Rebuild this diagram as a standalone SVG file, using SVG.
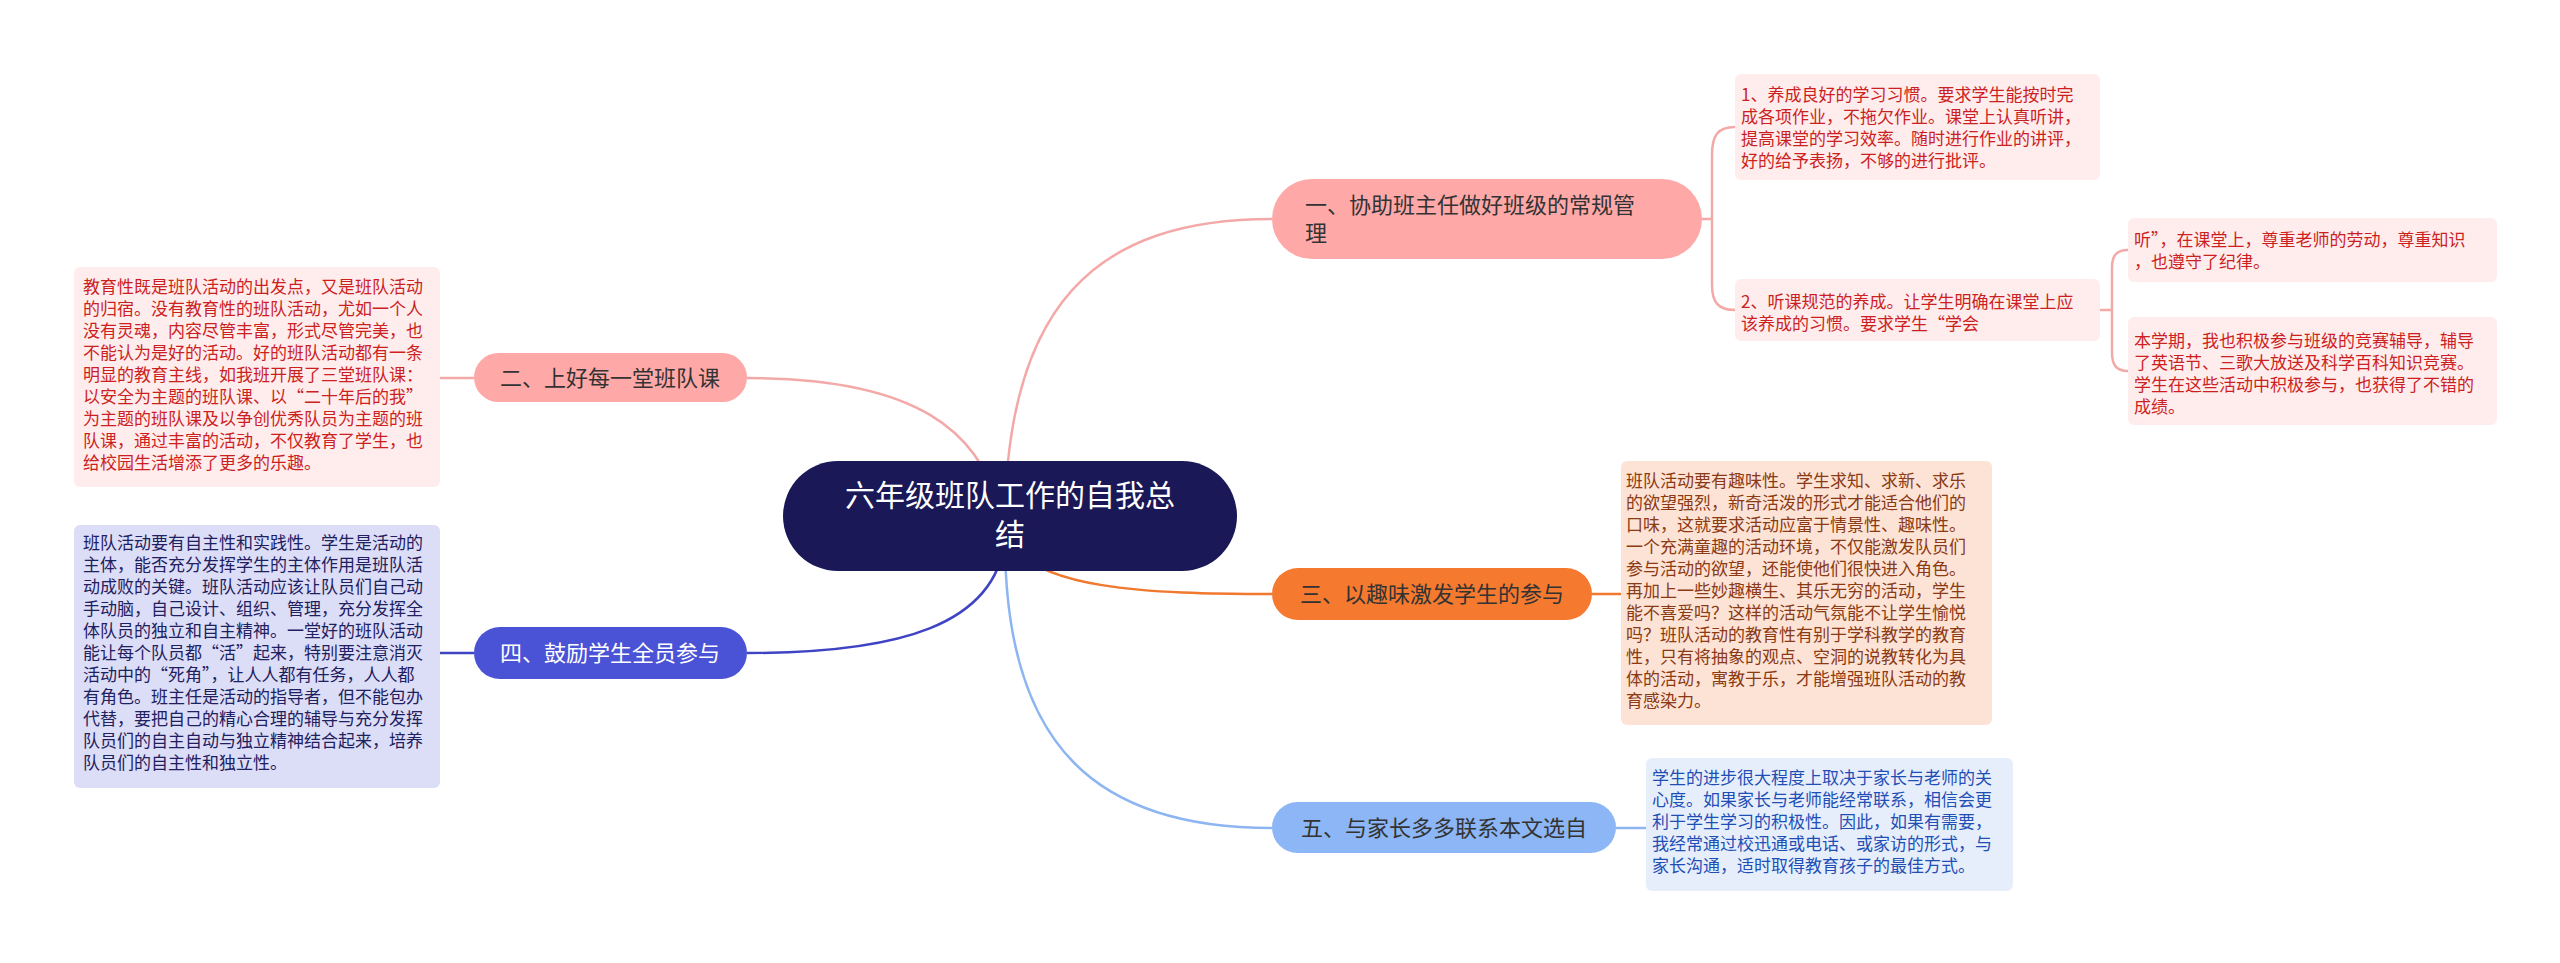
<svg xmlns="http://www.w3.org/2000/svg" width="2560" height="963" viewBox="0 0 2560 963">
<style>
text{font-family:"Noto Sans CJK SC","Liberation Sans",sans-serif}
.d{font-size:17px}
.m{font-size:22px}
.c{fill:none;stroke-width:2.5}
</style>
<rect width="2560" height="963" fill="#fff"/>
<g id="connectors">
<path class="c" stroke="#F4A9A9" d="M1005 545 C1000 300 1100 219 1272 219"/>
<path class="c" stroke="#F4A9A9" d="M1005 545 C995 420 900 378 747 378"/>
<path class="c" stroke="#F0782F" d="M1005 535 C1030 590 1150 594 1272 594"/>
<path class="c" stroke="#3F44C4" d="M1005 540 C995 625 900 653 747 653"/>
<path class="c" stroke="#8DB5F2" d="M1005 540 C1005 750 1100 828 1272 828"/>
<path class="c" stroke="#F4A9A9" d="M474 378 H440"/>
<path class="c" stroke="#3F44C4" d="M474 653 H440"/>
<path class="c" stroke="#F0782F" d="M1592 594 H1621"/>
<path class="c" stroke="#8DB5F2" d="M1616 828 H1646"/>
<path class="c" stroke="#F4A9A9" d="M1702 219 H1712 M1735 127 C1718 127 1712 135 1712 155 V285 C1712 302 1718 310 1735 310"/>
<path class="c" stroke="#F4A9A9" d="M2100 310 H2112 M2128 250 C2116 250 2112 256 2112 268 V352 C2112 365 2116 371 2128 371"/>
</g>
<g id="center">
<rect x="783" y="461" width="454" height="110" rx="55" fill="#1A1856"/>
<text x="1010" y="506" font-size="30" fill="#fff" text-anchor="middle">六年级班队工作的自我总</text>
<text x="1010" y="545" font-size="30" fill="#fff" text-anchor="middle">结</text>
</g>
<g id="n1">
<rect x="1272" y="179" width="430" height="80" rx="40" fill="#FFA8A8"/>
<text class="m" x="1305" y="213" fill="#333">一、协助班主任做好班级的常规管</text>
<text class="m" x="1305" y="241" fill="#333">理</text>
</g>
<g id="n1a" class="d" fill="#CC1F1F">
<rect x="1735" y="74" width="365" height="106" rx="6" fill="#FFEDED"/>
<text x="1741" y="101">1、养成良好的学习习惯。要求学生能按时完</text>
<text x="1741" y="123">成各项作业，不拖欠作业。课堂上认真听讲，</text>
<text x="1741" y="145">提高课堂的学习效率。随时进行作业的讲评，</text>
<text x="1741" y="167">好的给予表扬，不够的进行批评。</text>
</g>
<g id="n1b" class="d" fill="#CC1F1F">
<rect x="1735" y="279" width="365" height="62" rx="6" fill="#FFEDED"/>
<text x="1741" y="308">2、听课规范的养成。让学生明确在课堂上应</text>
<text x="1741" y="330">该养成的习惯。要求学生“学会</text>
</g>
<g id="n1b1" class="d" fill="#CC1F1F">
<rect x="2128" y="218" width="369" height="64" rx="6" fill="#FFEDED"/>
<text x="2134" y="246">听”，在课堂上，尊重老师的劳动，尊重知识</text>
<text x="2134" y="268">，也遵守了纪律。</text>
</g>
<g id="n1b2" class="d" fill="#CC1F1F">
<rect x="2128" y="317" width="369" height="108" rx="6" fill="#FFEDED"/>
<text x="2134" y="347">本学期，我也积极参与班级的竞赛辅导，辅导</text>
<text x="2134" y="369">了英语节、三歌大放送及科学百科知识竞赛。</text>
<text x="2134" y="391">学生在这些活动中积极参与，也获得了不错的</text>
<text x="2134" y="413">成绩。</text>
</g>
<g id="n2">
<rect x="474" y="353" width="273" height="49" rx="24.5" fill="#FFA8A8"/>
<text class="m" x="610" y="386" fill="#333" text-anchor="middle">二、上好每一堂班队课</text>
</g>
<g id="n2a" class="d" fill="#CC1F1F">
<rect x="74" y="267" width="366" height="220" rx="6" fill="#FFEDED"/>
<text x="83" y="293">教育性既是班队活动的出发点，又是班队活动</text>
<text x="83" y="315">的归宿。没有教育性的班队活动，尤如一个人</text>
<text x="83" y="337">没有灵魂，内容尽管丰富，形式尽管完美，也</text>
<text x="83" y="359">不能认为是好的活动。好的班队活动都有一条</text>
<text x="83" y="381">明显的教育主线，如我班开展了三堂班队课：</text>
<text x="83" y="403">以安全为主题的班队课、以“二十年后的我”</text>
<text x="83" y="425">为主题的班队课及以争创优秀队员为主题的班</text>
<text x="83" y="447">队课，通过丰富的活动，不仅教育了学生，也</text>
<text x="83" y="469">给校园生活增添了更多的乐趣。</text>
</g>
<g id="n3">
<rect x="1272" y="568" width="320" height="52" rx="26" fill="#F5792F"/>
<text class="m" x="1432" y="602" fill="#333" text-anchor="middle">三、以趣味激发学生的参与</text>
</g>
<g id="n3a" class="d" fill="#8A3A14">
<rect x="1621" y="461" width="371" height="264" rx="6" fill="#FDE3D5"/>
<text x="1626" y="487">班队活动要有趣味性。学生求知、求新、求乐</text>
<text x="1626" y="509">的欲望强烈，新奇活泼的形式才能适合他们的</text>
<text x="1626" y="531">口味，这就要求活动应富于情景性、趣味性。</text>
<text x="1626" y="553">一个充满童趣的活动环境，不仅能激发队员们</text>
<text x="1626" y="575">参与活动的欲望，还能使他们很快进入角色。</text>
<text x="1626" y="597">再加上一些妙趣横生、其乐无穷的活动，学生</text>
<text x="1626" y="619">能不喜爱吗？这样的活动气氛能不让学生愉悦</text>
<text x="1626" y="641">吗？班队活动的教育性有别于学科教学的教育</text>
<text x="1626" y="663">性，只有将抽象的观点、空洞的说教转化为具</text>
<text x="1626" y="685">体的活动，寓教于乐，才能增强班队活动的教</text>
<text x="1626" y="707">育感染力。</text>
</g>
<g id="n4">
<rect x="474" y="627" width="273" height="52" rx="26" fill="#4A52D6"/>
<text class="m" x="610" y="661" fill="#fff" text-anchor="middle">四、鼓励学生全员参与</text>
</g>
<g id="n4a" class="d" fill="#1E2060">
<rect x="74" y="525" width="366" height="263" rx="6" fill="#DCDDF7"/>
<text x="83" y="549">班队活动要有自主性和实践性。学生是活动的</text>
<text x="83" y="571">主体，能否充分发挥学生的主体作用是班队活</text>
<text x="83" y="593">动成败的关键。班队活动应该让队员们自己动</text>
<text x="83" y="615">手动脑，自己设计、组织、管理，充分发挥全</text>
<text x="83" y="637">体队员的独立和自主精神。一堂好的班队活动</text>
<text x="83" y="659">能让每个队员都“活”起来，特别要注意消灭</text>
<text x="83" y="681">活动中的“死角”，让人人都有任务，人人都</text>
<text x="83" y="703">有角色。班主任是活动的指导者，但不能包办</text>
<text x="83" y="725">代替，要把自己的精心合理的辅导与充分发挥</text>
<text x="83" y="747">队员们的自主自动与独立精神结合起来，培养</text>
<text x="83" y="769">队员们的自主性和独立性。</text>
</g>
<g id="n5">
<rect x="1272" y="802" width="344" height="51" rx="25.5" fill="#8CB6F5"/>
<text class="m" x="1444" y="836" fill="#333" text-anchor="middle">五、与家长多多联系本文选自</text>
</g>
<g id="n5a" class="d" fill="#1F4FB5">
<rect x="1646" y="758" width="367" height="133" rx="6" fill="#E6EEFC"/>
<text x="1652" y="784">学生的进步很大程度上取决于家长与老师的关</text>
<text x="1652" y="806">心度。如果家长与老师能经常联系，相信会更</text>
<text x="1652" y="828">利于学生学习的积极性。因此，如果有需要，</text>
<text x="1652" y="850">我经常通过校迅通或电话、或家访的形式，与</text>
<text x="1652" y="872">家长沟通，适时取得教育孩子的最佳方式。</text>
</g>
</svg>
